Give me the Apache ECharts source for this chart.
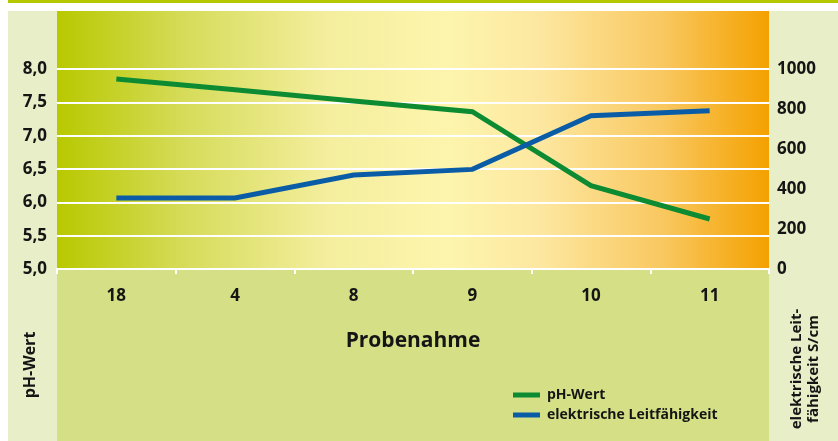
<!DOCTYPE html>
<html>
<head>
<meta charset="utf-8">
<script src="https://cdn.jsdelivr.net/npm/echarts@6/dist/echarts.min.js"></script>
<style>
  html, body { margin: 0; padding: 0; background: #ffffff; }
  #chart { width: 838px; height: 441px; }
</style>
</head>
<body>
<div id="chart"></div>
<script>
// Probenahme-Stellen und Messwerte
const categories = ['18', '4', '8', '9', '10', '11'];
const phValues = [7.85, 7.69, 7.52, 7.36, 6.25, 5.75];
const conductivityValues = [355, 355, 470, 498, 766, 791];

const phTicks = { min: 5, max: 8, interval: 0.5 };
const condTicks = { min: 0, max: 1000, interval: 200 };

const FONT = '"Open Sans", "Noto Sans", sans-serif';
const TEXT = '#151515';

const chart = echarts.init(document.getElementById('chart'), null, { renderer: 'canvas' });

const W = 838, H = 441;
const plotL = 57, plotR = 769, plotT = 69, plotB = 269, panelT = 11;

const option = {
  animation: false,
  backgroundColor: '#ffffff',
  textStyle: { fontFamily: FONT },
  graphic: [
    { type: 'rect', z: -20, shape: { x: 8, y: 0, width: W - 8, height: 3 }, style: { fill: '#b6c800' } },
    { type: 'rect', z: -20, shape: { x: 8, y: panelT, width: W - 8, height: H - panelT }, style: { fill: '#e7eec8' } },
    { type: 'rect', z: -19, shape: { x: plotL, y: plotB, width: plotR - plotL, height: H - plotB }, style: { fill: '#d4df86' } },
    {
      type: 'rect', z: -19,
      shape: { x: plotL, y: panelT, width: plotR - plotL, height: plotB - panelT },
      style: {
        fill: new echarts.graphic.LinearGradient(0, 0, 1, 0, [
          { offset: 0, color: '#b8c900' },
          { offset: 0.18, color: '#d6dc5a' },
          { offset: 0.38, color: '#f4ee9e' },
          { offset: 0.55, color: '#fdf5ad' },
          { offset: 0.68, color: '#fde7a0' },
          { offset: 0.85, color: '#f9c860' },
          { offset: 1, color: '#f4a100' }
        ])
      }
    },
    {
      type: 'text', z: 5, x: 30, y: 365, rotation: Math.PI / 2,
      style: { text: 'pH-Wert', fill: TEXT, font: 'bold 16px ' + FONT, textAlign: 'center', textVerticalAlign: 'middle' }
    },
    {
      type: 'text', z: 5, x: 805, y: 369, rotation: Math.PI / 2,
      style: { text: 'elektrische Leit-\nfähigkeit S/cm', fill: TEXT, font: 'bold 15px ' + FONT, lineHeight: 17, textAlign: 'center', textVerticalAlign: 'middle' }
    }
  ],
  grid: { left: plotL, right: W - plotR, top: plotT, bottom: H - plotB, containLabel: false },
  legend: {
    orient: 'vertical',
    left: 508,
    top: 383,
    itemWidth: 27,
    itemHeight: 5,
    itemGap: 6,
    icon: 'rect',
    textStyle: { color: TEXT, fontFamily: FONT, fontWeight: 'bold', fontSize: 14, padding: [0, 0, 0, 2] },
    data: ['pH-Wert', 'elektrische Leitfähigkeit']
  },
  xAxis: {
    type: 'category',
    data: categories,
    boundaryGap: true,
    name: 'Probenahme',
    nameLocation: 'middle',
    nameGap: 62,
    nameTextStyle: { color: TEXT, fontFamily: FONT, fontWeight: 'bold', fontSize: 21 },
    axisLine: { show: true, lineStyle: { color: '#ffffff', width: 2 } },
    axisTick: { show: true, length: 5, lineStyle: { color: '#ffffff', width: 2 } },
    axisLabel: { color: TEXT, fontFamily: FONT, fontWeight: 'bold', fontSize: 17, margin: 19 },
    splitLine: { show: false }
  },
  yAxis: [
    {
      type: 'value',
      position: 'left',
      min: phTicks.min, max: phTicks.max, interval: phTicks.interval,
      axisLine: { show: false },
      axisTick: { show: false },
      axisLabel: {
        color: TEXT, fontFamily: FONT, fontWeight: 'bold', fontSize: 17, margin: 10,
        formatter: v => v.toFixed(1).replace('.', ',')
      },
      splitLine: { show: true, lineStyle: { color: '#ffffff', width: 2 } }
    },
    {
      type: 'value',
      position: 'right',
      min: condTicks.min, max: condTicks.max, interval: condTicks.interval,
      axisLine: { show: false },
      axisTick: { show: false },
      axisLabel: {
        color: TEXT, fontFamily: FONT, fontWeight: 'bold', fontSize: 17, margin: 8,
        formatter: v => String(v)
      },
      splitLine: { show: false }
    }
  ],
  series: [
    {
      name: 'pH-Wert',
      type: 'line',
      yAxisIndex: 0,
      data: phValues,
      symbol: 'none',
      color: '#0c8b33',
      itemStyle: { color: '#0c8b33' },
      lineStyle: { color: '#0c8b33', width: 5, cap: 'butt', join: 'miter' },
      z: 3
    },
    {
      name: 'elektrische Leitfähigkeit',
      type: 'line',
      yAxisIndex: 1,
      data: conductivityValues,
      symbol: 'none',
      color: '#0b5ca6',
      itemStyle: { color: '#0b5ca6' },
      lineStyle: { color: '#0b5ca6', width: 5, cap: 'butt', join: 'miter' },
      z: 4
    }
  ]
};

chart.setOption(option);
</script>
</body>
</html>
